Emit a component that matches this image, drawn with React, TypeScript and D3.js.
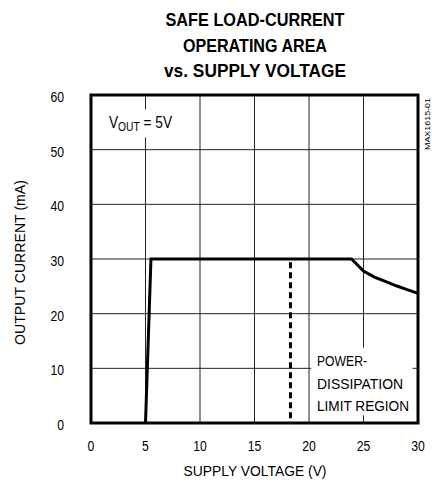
import React, { useEffect, useRef } from "react";
import * as d3 from "d3";

// safe load current boundary
const supplyV = [5, 5.5, 23.9, 25, 26, 27, 28, 29, 30];
const loadI = [0, 30, 30, 27.8, 26.7, 25.9, 25.1, 24.4, 23.7];
const limitV = 18.3; // dashed power dissipation limit
const xTicks = [0, 5, 10, 15, 20, 25, 30];
const yTicks = [0, 10, 20, 30, 40, 50, 60];
const titleLines = ["SAFE LOAD-CURRENT", "OPERATING AREA", "vs. SUPPLY VOLTAGE"];
const titleWidths = [179, 144, 182];
const regionLines = ["POWER-", "DISSIPATION", "LIMIT REGION"];
const regionWidths = [50, 86, 92];

const FONT = "'Liberation Sans', Arial, sans-serif";
const DIGIT_W = 6.8;

export default function App() {
  const ref = useRef<SVGSVGElement>(null);

  useEffect(() => {
    const svg = d3.select(ref.current);
    svg.selectAll("*").remove();

    const margin = { top: 95, left: 91, right: 14, bottom: 60 };
    const width = 432;
    const height = 483;

    const x = d3.scaleLinear().domain([0, 30]).range([margin.left, width - margin.right]);
    const y = d3.scaleLinear().domain([0, 60]).range([height - margin.bottom, margin.top]);

    // title (condensed face squeezed with textLength)
    svg
      .append("g")
      .selectAll("text")
      .data(titleLines)
      .join("text")
      .attr("x", (d, i) => 255 - titleWidths[i] / 2)
      .attr("y", (d, i) => 26 + i * 25.5)
      .attr("textLength", (d, i) => titleWidths[i])
      .attr("lengthAdjust", "spacingAndGlyphs")
      .attr("font-family", FONT)
      .attr("font-weight", "bold")
      .attr("font-size", 18)
      .text((d) => d);

    // grid
    const grid = svg.append("g").attr("stroke", "#222").attr("stroke-width", 1);
    grid
      .selectAll("line.v")
      .data(xTicks.slice(1, -1))
      .join("line")
      .attr("class", "v")
      .attr("x1", (d) => x(d))
      .attr("x2", (d) => x(d))
      .attr("y1", y(60))
      .attr("y2", y(0));
    grid
      .selectAll("line.h")
      .data(yTicks.slice(1, -1))
      .join("line")
      .attr("class", "h")
      .attr("x1", x(0))
      .attr("x2", x(30))
      .attr("y1", (d) => y(d))
      .attr("y2", (d) => y(d));

    // label masks
    svg
      .append("rect")
      .attr("x", x(1.6))
      .attr("y", y(57.4))
      .attr("width", x(7.6) - x(1.6))
      .attr("height", y(52.2) - y(57.4))
      .attr("fill", "white");
    svg
      .append("rect")
      .attr("x", x(20.2))
      .attr("y", y(13.8))
      .attr("width", x(29.5) - x(20.2))
      .attr("height", y(1.4) - y(13.8))
      .attr("fill", "white");

    // VOUT label, squeezed horizontally like the narrow face
    const vout = svg
      .append("text")
      .attr("transform", "translate(109,128) scale(0.855,1)")
      .attr("font-family", FONT)
      .attr("font-size", 16);
    vout.append("tspan").text("V");
    vout.append("tspan").attr("font-size", 12).attr("dy", 3).text("OUT");
    vout.append("tspan").attr("dy", -3).text(" = 5V");

    // region label
    svg
      .append("g")
      .selectAll("text")
      .data(regionLines)
      .join("text")
      .attr("x", 317)
      .attr("y", (d, i) => 366 + i * 22.5)
      .attr("textLength", (d, i) => regionWidths[i])
      .attr("lengthAdjust", "spacingAndGlyphs")
      .attr("font-family", FONT)
      .attr("font-size", 14.5)
      .text((d) => d);

    // dashed limit line
    svg
      .append("line")
      .attr("x1", x(limitV))
      .attr("x2", x(limitV))
      .attr("y1", y(29.4))
      .attr("y2", y(0))
      .attr("stroke", "black")
      .attr("stroke-width", 3)
      .attr("stroke-dasharray", "6,4");

    // boundary curve
    const line = d3
      .line<number>()
      .x((d, i) => x(supplyV[i]))
      .y((d) => y(d));
    svg
      .append("path")
      .attr("d", line(loadI))
      .attr("fill", "none")
      .attr("stroke", "black")
      .attr("stroke-width", 3)
      .attr("stroke-linejoin", "miter");

    // frame
    svg
      .append("rect")
      .attr("x", x(0))
      .attr("y", y(60))
      .attr("width", x(30) - x(0))
      .attr("height", y(0) - y(60))
      .attr("fill", "none")
      .attr("stroke", "black")
      .attr("stroke-width", 3);

    // tick labels
    svg
      .append("g")
      .selectAll("text")
      .data(yTicks)
      .join("text")
      .attr("x", (d) => 64 - String(d).length * DIGIT_W)
      .attr("y", (d) => y(d) + 7)
      .attr("textLength", (d) => String(d).length * DIGIT_W)
      .attr("lengthAdjust", "spacingAndGlyphs")
      .attr("font-family", FONT)
      .attr("font-size", 15.5)
      .text((d) => d);
    svg
      .append("g")
      .selectAll("text")
      .data(xTicks)
      .join("text")
      .attr("x", (d) => x(d) - (String(d).length * DIGIT_W) / 2)
      .attr("y", 451)
      .attr("textLength", (d) => String(d).length * DIGIT_W)
      .attr("lengthAdjust", "spacingAndGlyphs")
      .attr("font-family", FONT)
      .attr("font-size", 15.5)
      .text((d) => d);

    // axis titles
    svg
      .append("text")
      .attr("x", 255 - 143 / 2)
      .attr("y", 476)
      .attr("textLength", 143)
      .attr("lengthAdjust", "spacingAndGlyphs")
      .attr("font-family", FONT)
      .attr("font-size", 15)
      .text("SUPPLY VOLTAGE (V)");
    svg
      .append("text")
      .attr("transform", "translate(25,345) rotate(-90)")
      .attr("textLength", 165)
      .attr("lengthAdjust", "spacingAndGlyphs")
      .attr("font-family", FONT)
      .attr("font-size", 15)
      .text("OUTPUT CURRENT (mA)");

    // part number
    svg
      .append("text")
      .attr("transform", "translate(430,150) rotate(-90)")
      .attr("textLength", 52)
      .attr("lengthAdjust", "spacingAndGlyphs")
      .attr("font-family", FONT)
      .attr("font-size", 7.5)
      .text("MAX1615-01");
  }, []);

  return (
    <svg
      ref={ref}
      width={432}
      height={483}
      style={{ position: "absolute", left: 0, top: 0, background: "white" }}
    ></svg>
  );
}
